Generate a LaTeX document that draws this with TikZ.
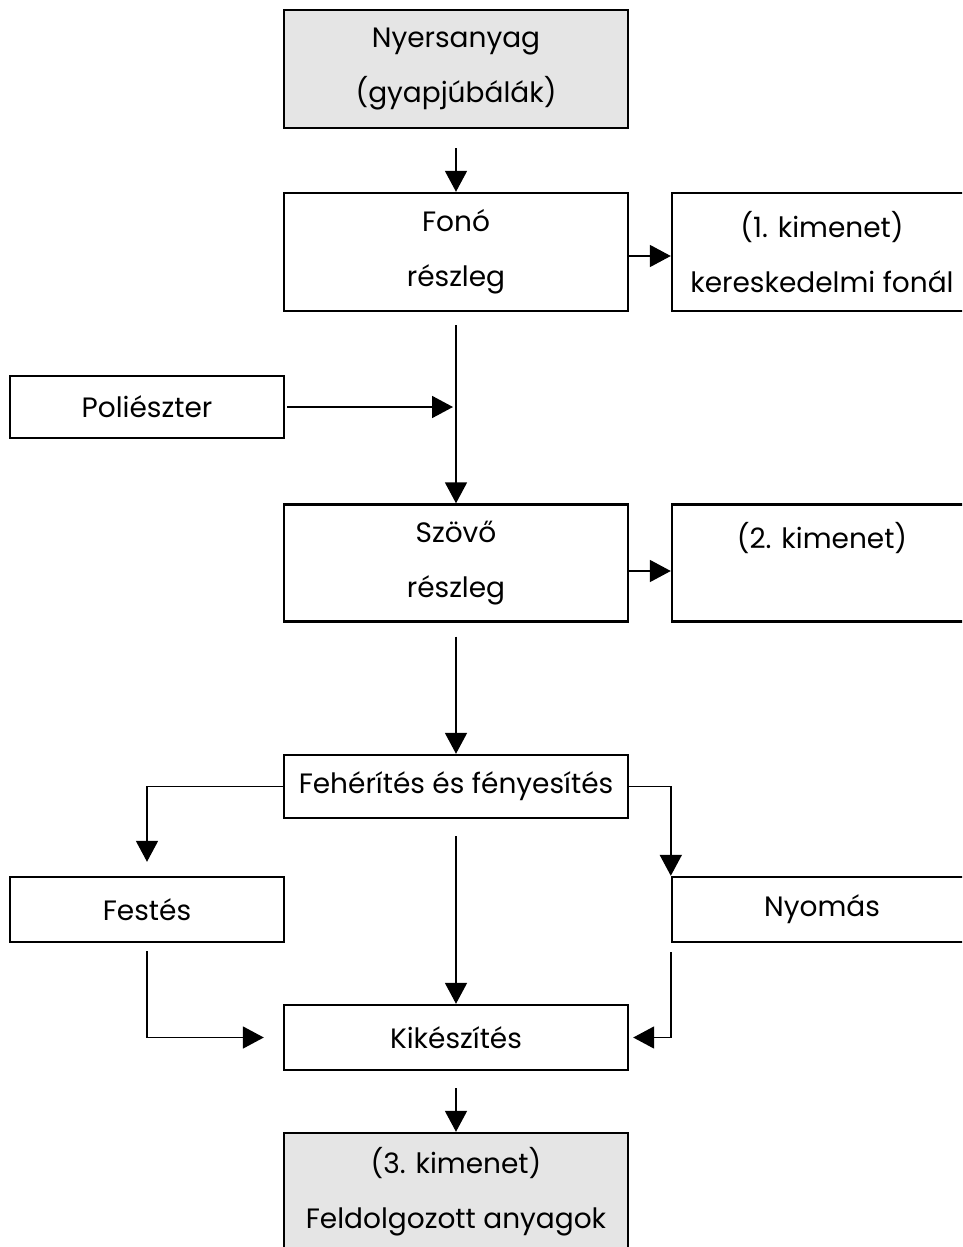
\documentclass[tikz,border=0pt]{standalone}
\usepackage{fontspec}
\setmainfont{Poppins}
\usetikzlibrary{arrows.meta}

\tikzset{
  box/.style={draw, line width=2.4pt, rectangle, align=center, inner sep=0pt,
    font=\fontsize{28}{55}\selectfont},
  shaded/.style={box, fill=black!10},
  conn/.style={line width=1.8pt, -{Triangle[width=22pt,length=21pt]}},
}

\begin{document}
\begin{tikzpicture}[x=1pt,y=-1pt]
  \useasboundingbox (0,0) rectangle (962,1247);
  \clip (0,0) rectangle (962,1247);

  % process boxes
  \node[shaded, minimum width=344pt, minimum height=118pt] (raw) at (456,69) {Nyersanyag\\(gyapjúbálák)};
  \node[box, minimum width=344pt, minimum height=118pt] (fono) at (456,252) {Fonó\\részleg};
  \node[box, minimum width=300pt, minimum height=118pt] (out1) at (822,252) {(1. kimenet)\\kereskedelmi fonál};
  \node[box, minimum width=274pt, minimum height=62pt] (poli) at (147,407) {Poliészter};
  \node[box, minimum width=344pt, minimum height=117pt] (szovo) at (456,563) {Szövő\\részleg};
  \node[box, minimum width=300pt, minimum height=117pt] (out2) at (822,563) {(2. kimenet)\\\mbox{}};
  \node[box, minimum width=344pt, minimum height=63pt] (feh) at (456,786.5) {\raisebox{4pt}{Fehérítés és fényesítés}};
  \node[box, minimum width=274pt, minimum height=65pt] (festes) at (147,909.5) {Festés};
  \node[box, minimum width=300pt, minimum height=65pt] (nyomas) at (822,909.5) {Nyomás};
  \node[box, minimum width=344pt, minimum height=65pt] (kik) at (456,1037.5) {Kikészítés};
  \node[shaded, minimum width=344pt, minimum height=118pt] (out3) at (456,1192) {(3. kimenet)\\Feldolgozott anyagok};

  \coordinate (join) at (fono.south |- poli.east);

  % connectors
  \draw[conn, shorten <=19pt] (raw) -- (fono);
  \draw[conn] ([yshift=-4pt]fono.east) -- ([yshift=-4pt]out1.west);
  \draw[conn, shorten <=13pt] (fono) -- (szovo);
  \draw[conn, shorten <=2pt, shorten >=3pt] (poli.east) -- (join);
  \draw[conn] ([yshift=-8pt]szovo.east) -- ([yshift=-8pt]out2.west);
  \draw[conn, shorten <=14pt] (szovo) -- (feh);
  \draw[conn, shorten >=14pt] (feh.west) -| (festes.north);
  \draw[conn] (feh.east) -| (nyomas.north west);
  \draw[conn, shorten <=17pt] (feh) -- (kik);
  \draw[conn, shorten <=8pt, shorten >=19pt] (festes.south) |- (kik.west);
  \draw[conn, shorten <=9pt, shorten >=4pt] (nyomas.south west) |- (kik.east);
  \draw[conn, shorten <=17pt] (kik) -- (out3);
\end{tikzpicture}
\end{document}
